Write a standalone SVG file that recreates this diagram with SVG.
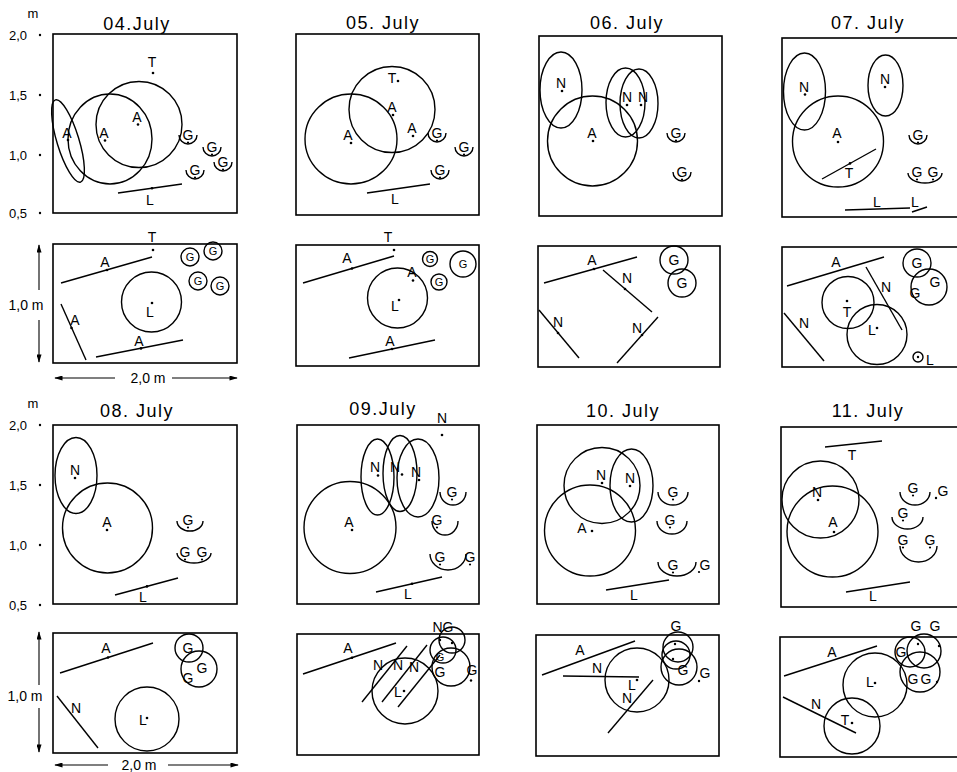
<svg xmlns="http://www.w3.org/2000/svg" width="957" height="772" viewBox="0 0 957 772">
<defs>
<marker id="ah" viewBox="0 0 10 6" refX="9" refY="3" markerWidth="9" markerHeight="5" orient="auto" markerUnits="userSpaceOnUse"><path d="M0,0 L10,3 L0,6 z" fill="#000"/></marker>
</defs>
<style>
.bx{fill:none;stroke:#000;stroke-width:1.6}
.ln{fill:none;stroke:#000;stroke-width:1.4}
.ar{fill:none;stroke:#000;stroke-width:1.1;marker-end:url(#ah)}
.d{fill:#000}
text{font-family:"Liberation Sans",Arial,sans-serif;fill:#000;text-anchor:middle}
.t{font-size:18px;letter-spacing:1.5px}
.l{font-size:14px}
.g{font-size:11px}
.ax{font-size:13px}
</style>
<rect width="957" height="772" fill="#fff"/>

<g id="axes-top">
<text class="ax" x="33" y="18">m</text>
<text class="ax" x="18" y="39.5">2,0</text><circle class="d" cx="40" cy="35" r="1.2"/>
<text class="ax" x="18" y="99.5">1,5</text><circle class="d" cx="40" cy="95" r="1.2"/>
<text class="ax" x="18" y="159.5">1,0</text><circle class="d" cx="40" cy="155" r="1.2"/>
<text class="ax" x="18" y="217.5">0,5</text><circle class="d" cx="40" cy="213" r="1.2"/>
<text class="l" x="26" y="310">1,0 m</text>
<path class="ar" d="M39,290 L39,245"/><path class="ar" d="M39,320 L39,362"/>
<text class="l" x="148" y="383">2,0 m</text>
<path class="ar" d="M115,378 L55,378"/><path class="ar" d="M172,378 L237,378"/>
</g>

<g id="axes-bottom">
<text class="ax" x="33" y="408">m</text>
<text class="ax" x="18" y="429.5">2,0</text><circle class="d" cx="40" cy="425" r="1.2"/>
<text class="ax" x="18" y="489.5">1,5</text><circle class="d" cx="40" cy="485" r="1.2"/>
<text class="ax" x="18" y="549.5">1,0</text><circle class="d" cx="40" cy="545" r="1.2"/>
<text class="ax" x="18" y="609.5">0,5</text><circle class="d" cx="40" cy="605" r="1.2"/>
<text class="l" x="25" y="701">1,0 m</text>
<path class="ar" d="M39,685 L39,632"/><path class="ar" d="M39,708 L39,752"/>
<text class="l" x="139" y="770">2,0 m</text>
<path class="ar" d="M108,765 L55,765"/><path class="ar" d="M168,765 L238,765"/>
</g>

<g id="p04">
<text class="t" x="137" y="29.5">04.July</text>
<rect class="bx" x="53" y="34" width="184" height="179"/>
<text class="l" x="152" y="67">T</text><circle class="d" cx="153" cy="73" r="1.3"/>
<ellipse class="ln" cx="110" cy="139" rx="42" ry="45"/>
<circle class="ln" cx="139" cy="124.5" r="43"/>
<ellipse class="ln" cx="68" cy="141" rx="43" ry="11" transform="rotate(73 68 141)"/>
<text class="l" x="67" y="138">A</text><circle class="d" cx="68" cy="140" r="1.3"/>
<text class="l" x="104" y="138">A</text><circle class="d" cx="105" cy="140.5" r="1.3"/>
<text class="l" x="137" y="122">A</text><circle class="d" cx="138" cy="124.5" r="1.3"/>
<text class="l" x="188" y="140">G</text><circle class="d" cx="188" cy="142.5" r="1.1"/><path class="ln" d="M179,135 A9,9 0 0 0 197,135"/>
<text class="l" x="212" y="152">G</text><circle class="d" cx="212" cy="154.5" r="1.1"/><path class="ln" d="M203,147 A9,9 0 0 0 221,147"/>
<text class="l" x="223" y="167">G</text><circle class="d" cx="223" cy="169.5" r="1.1"/><path class="ln" d="M214,162 A9,9 0 0 0 232,162"/>
<text class="l" x="195" y="175">G</text><circle class="d" cx="195" cy="177.5" r="1.1"/><path class="ln" d="M186,170 A9,9 0 0 0 204,170"/>
<path class="ln" d="M118,193 L182,184"/><circle class="d" cx="152" cy="188.2" r="1.3"/>
<text class="l" x="150" y="205">L</text>
<rect class="bx" x="53" y="244" width="184" height="119"/>
<text class="l" x="152" y="242">T</text><circle class="d" cx="153" cy="250" r="1.3"/>
<path class="ln" d="M61,283 L152,257"/><circle class="d" cx="107" cy="270" r="1.3"/>
<text class="l" x="105" y="267">A</text>
<circle class="ln" cx="151.5" cy="302" r="30"/>
<text class="l" x="150" y="317">L</text><circle class="d" cx="152" cy="303" r="1.3"/>
<path class="ln" d="M61,304 L86,360"/><circle class="d" cx="71.5" cy="328" r="1.3"/>
<text class="l" x="75" y="325">A</text>
<path class="ln" d="M96,357 L183,340"/><circle class="d" cx="141" cy="348.4" r="1.3"/>
<text class="l" x="139" y="346">A</text>
<circle class="ln" cx="190" cy="257" r="9"/><text class="g" x="190" y="261">G</text>
<circle class="ln" cx="213" cy="251" r="9"/><text class="g" x="213" y="255">G</text>
<circle class="ln" cx="198" cy="281" r="9"/><text class="g" x="198" y="285">G</text>
<circle class="ln" cx="220" cy="286" r="9"/><text class="g" x="220" y="290">G</text>
</g>

<g id="p05">
<text class="t" x="383" y="28.5">05. July</text>
<rect class="bx" x="296" y="34" width="183" height="181"/>
<ellipse class="ln" cx="351" cy="139" rx="46" ry="45"/>
<circle class="ln" cx="392" cy="109.5" r="43"/>
<text class="l" x="392" y="83">T</text><circle class="d" cx="398" cy="81" r="1.3"/>
<text class="l" x="392" y="112">A</text><circle class="d" cx="393" cy="115" r="1.3"/>
<text class="l" x="348" y="140">A</text><circle class="d" cx="351" cy="143" r="1.3"/>
<text class="l" x="412" y="133">A</text><circle class="d" cx="413" cy="136" r="1.3"/>
<text class="l" x="437" y="138">G</text><circle class="d" cx="437" cy="140.5" r="1.1"/><path class="ln" d="M428,133 A9,9 0 0 0 446,133"/>
<text class="l" x="464" y="152">G</text><circle class="d" cx="464" cy="154.5" r="1.1"/><path class="ln" d="M455,147 A9,9 0 0 0 473,147"/>
<text class="l" x="440" y="175">G</text><circle class="d" cx="440" cy="177.5" r="1.1"/><path class="ln" d="M431,170 A9,9 0 0 0 449,170"/>
<path class="ln" d="M367,193 L430,184"/>
<text class="l" x="395" y="204">L</text>
<rect class="bx" x="296" y="245" width="183" height="121"/>
<text class="l" x="388" y="242">T</text><circle class="d" cx="394" cy="250" r="1.3"/>
<path class="ln" d="M303,283 L394,256"/><circle class="d" cx="352" cy="268.5" r="1.3"/>
<text class="l" x="347" y="263">A</text>
<circle class="ln" cx="397.5" cy="298" r="30"/>
<text class="l" x="395" y="311">L</text><circle class="d" cx="399" cy="300" r="1.3"/>
<text class="l" x="412" y="277">A</text><circle class="d" cx="413" cy="280.5" r="1.3"/>
<path class="ln" d="M349,358 L435,340"/><circle class="d" cx="392" cy="349" r="1.3"/>
<text class="l" x="390" y="346">A</text>
<circle class="ln" cx="430" cy="259" r="7.5"/><text class="g" x="430" y="263">G</text>
<circle class="ln" cx="463" cy="264" r="13"/><text class="g" x="463" y="268">G</text>
<circle class="ln" cx="439" cy="282" r="8"/><text class="g" x="439" y="286">G</text>
</g>

<g id="p06">
<text class="t" x="627" y="28.5">06. July</text>
<rect class="bx" x="539" y="36" width="183" height="180"/>
<ellipse class="ln" cx="561" cy="90" rx="21" ry="38"/>
<text class="l" x="561" y="88">N</text><circle class="d" cx="562" cy="91" r="1.3"/>
<circle class="ln" cx="592.5" cy="141" r="45"/>
<text class="l" x="592" y="138">A</text><circle class="d" cx="593" cy="141" r="1.3"/>
<ellipse class="ln" cx="625.5" cy="102.5" rx="19.5" ry="34.5"/>
<ellipse class="ln" cx="639" cy="103.5" rx="19" ry="34.5"/>
<text class="l" x="627" y="102">N</text><circle class="d" cx="627" cy="105" r="1.3"/>
<text class="l" x="643" y="102">N</text><circle class="d" cx="641" cy="105" r="1.3"/>
<text class="l" x="676" y="138">G</text><circle class="d" cx="676" cy="140.5" r="1.1"/><path class="ln" d="M667,133 A9,9 0 0 0 685,133"/>
<text class="l" x="682" y="177">G</text><circle class="d" cx="682" cy="179.5" r="1.1"/><path class="ln" d="M673,172 A9,9 0 0 0 691,172"/>
<rect class="bx" x="538" y="246" width="182" height="121"/>
<path class="ln" d="M544,283 L637,257"/><circle class="d" cx="594" cy="269" r="1.3"/>
<text class="l" x="592" y="265">A</text>
<path class="ln" d="M603,270 L652,312"/><circle class="d" cx="625" cy="289" r="1.3"/>
<text class="l" x="627" y="283">N</text>
<path class="ln" d="M539,310 L579,358"/><circle class="d" cx="558" cy="333" r="1.3"/>
<text class="l" x="558" y="327">N</text>
<path class="ln" d="M658,317 L617,363"/><circle class="d" cx="642" cy="335" r="1.3"/>
<text class="l" x="637" y="333">N</text>
<circle class="ln" cx="674" cy="260" r="14"/><text class="l" x="674" y="265">G</text>
<circle class="ln" cx="682" cy="283" r="14"/><text class="l" x="682" y="288">G</text>
</g>

<g id="p07">
<text class="t" x="868" y="28.5">07. July</text>
<rect class="bx" x="782" y="38" width="180" height="179"/>
<ellipse class="ln" cx="804.5" cy="91.5" rx="21" ry="38.5"/>
<text class="l" x="804" y="92">N</text><circle class="d" cx="805" cy="94.5" r="1.3"/>
<ellipse class="ln" cx="885.5" cy="85.5" rx="17.5" ry="30.5"/>
<text class="l" x="885" y="84">N</text><circle class="d" cx="885" cy="87" r="1.3"/>
<circle class="ln" cx="838" cy="141.5" r="45.5"/>
<text class="l" x="837" y="138">A</text><circle class="d" cx="838" cy="142" r="1.3"/>
<path class="ln" d="M822,179 L876,149"/><circle class="d" cx="850" cy="163.4" r="1.3"/>
<text class="l" x="849" y="178">T</text>
<text class="l" x="918" y="140">G</text><circle class="d" cx="918" cy="142.5" r="1.1"/><path class="ln" d="M909,135 A9,9 0 0 0 927,135"/>
<text class="l" x="917" y="177">G</text><circle class="d" cx="917" cy="179.5" r="1.1"/>
<text class="l" x="933" y="177">G</text><circle class="d" cx="933" cy="179.5" r="1.1"/>
<path class="ln" d="M908,173 A17,10 0 0 0 942,173"/>
<path class="ln" d="M845,210 L910,208"/>
<text class="l" x="877" y="207">L</text>
<text class="l" x="915" y="207">L</text>
<path class="ln" d="M912,212 L927,207"/>
<rect class="bx" x="782" y="247" width="180" height="120"/>
<path class="ln" d="M787,286 L884,257"/>
<text class="l" x="836" y="267">A</text>
<path class="ln" d="M866,267 L902,330"/>
<text class="l" x="886" y="292">N</text>
<path class="ln" d="M784,313 L824,361"/>
<text class="l" x="804" y="328">N</text>
<circle class="ln" cx="848" cy="302.5" r="26"/>
<text class="l" x="847" y="317">T</text><circle class="d" cx="847" cy="301" r="1.3"/>
<circle class="ln" cx="877" cy="334.5" r="30"/>
<text class="l" x="872" y="335">L</text><circle class="d" cx="877" cy="328" r="1.3"/>
<circle class="ln" cx="917" cy="263" r="14"/><text class="l" x="917" y="268">G</text>
<circle class="ln" cx="929" cy="287" r="18"/>
<text class="l" x="915" y="298">G</text><text class="l" x="935" y="287">G</text>
<circle class="ln" cx="918" cy="357" r="5"/><circle class="d" cx="918" cy="357" r="1.2"/>
<text class="l" x="930" y="365">L</text>
</g>

<g id="p08">
<text class="t" x="137" y="416.5">08. July</text>
<rect class="bx" x="53" y="425" width="184" height="179"/>
<ellipse class="ln" cx="76" cy="475.5" rx="21" ry="38"/>
<text class="l" x="75" y="475">N</text><circle class="d" cx="75" cy="478" r="1.3"/>
<circle class="ln" cx="107.5" cy="528" r="45"/>
<text class="l" x="107" y="527">A</text><circle class="d" cx="107" cy="530" r="1.3"/>
<text class="l" x="188" y="525">G</text><circle class="d" cx="188" cy="527.5" r="1.1"/><path class="ln" d="M177,521 A13,10 0 0 0 203,521"/>
<text class="l" x="185" y="557">G</text><circle class="d" cx="185" cy="559.5" r="1.1"/>
<text class="l" x="202" y="557">G</text><circle class="d" cx="202" cy="559.5" r="1.1"/>
<path class="ln" d="M177,553 A17,10 0 0 0 211,553"/>
<path class="ln" d="M115,595 L178,578"/><circle class="d" cx="147" cy="586.4" r="1.3"/>
<text class="l" x="143" y="602">L</text>
<rect class="bx" x="53" y="633" width="184" height="120"/>
<path class="ln" d="M60,673 L153,643"/><circle class="d" cx="108" cy="657.5" r="1.3"/>
<text class="l" x="106" y="653">A</text>
<path class="ln" d="M57,696 L98,748"/>
<text class="l" x="76" y="713">N</text>
<circle class="ln" cx="147" cy="719" r="32"/>
<text class="l" x="143" y="725">L</text><circle class="d" cx="147" cy="718" r="1.3"/>
<circle class="ln" cx="189" cy="648" r="14"/>
<circle class="ln" cx="199" cy="669" r="18"/>
<text class="l" x="188" y="653">G</text><text class="l" x="202" y="673">G</text><text class="l" x="188" y="683">G</text>
</g>

<g id="p09">
<text class="t" x="383" y="414.5">09.July</text>
<text class="l" x="442" y="423">N</text><circle class="d" cx="442" cy="435" r="1.3"/>
<rect class="bx" x="297" y="425" width="182" height="179"/>
<circle class="ln" cx="350" cy="527.5" r="46"/>
<text class="l" x="349" y="527">A</text><circle class="d" cx="352" cy="530" r="1.3"/>
<ellipse class="ln" cx="377.5" cy="477" rx="16.5" ry="38"/>
<ellipse class="ln" cx="400" cy="473.5" rx="17" ry="38"/>
<ellipse class="ln" cx="418" cy="478" rx="21" ry="39"/>
<text class="l" x="375" y="472">N</text><circle class="d" cx="378" cy="475.5" r="1.3"/>
<text class="l" x="395" y="472">N</text><circle class="d" cx="402" cy="474.5" r="1.3"/>
<text class="l" x="416" y="477">N</text><circle class="d" cx="419" cy="480" r="1.3"/>
<text class="l" x="452" y="497">G</text><circle class="d" cx="452" cy="499.5" r="1.1"/><path class="ln" d="M440,492 A13,13 0 0 0 466,492"/>
<text class="l" x="437" y="525">G</text><circle class="d" cx="437" cy="527.5" r="1.1"/><path class="ln" d="M432,521 A13,14 0 0 0 458,521"/>
<text class="l" x="440" y="562">G</text><circle class="d" cx="440" cy="564.5" r="1.1"/>
<text class="l" x="470" y="562">G</text><circle class="d" cx="470" cy="564.5" r="1.1"/>
<path class="ln" d="M430,554 A18,16 0 0 0 466,554"/>
<path class="ln" d="M376,592 L442,577"/><circle class="d" cx="412" cy="583.8" r="1.3"/>
<text class="l" x="408" y="598.5">L</text>
<rect class="bx" x="297" y="634" width="182" height="121"/>
<path class="ln" d="M303,674 L396,643"/><circle class="d" cx="352" cy="657.7" r="1.3"/>
<text class="l" x="348" y="653">A</text>
<circle class="ln" cx="405" cy="691" r="33"/>
<text class="l" x="398" y="697">L</text><circle class="d" cx="404" cy="691" r="1.3"/>
<path class="ln" d="M362,702 L407,646"/>
<path class="ln" d="M382,702 L427,645"/>
<path class="ln" d="M398,707 L440,655"/>
<text class="l" x="378" y="670">N</text><text class="l" x="398" y="670">N</text><text class="l" x="414" y="672">N</text>
<circle class="ln" cx="452" cy="640" r="13"/>
<circle class="ln" cx="443" cy="650" r="13"/>
<circle class="ln" cx="451" cy="667" r="19"/>
<text class="l" x="443" y="632">NG</text>
<circle class="d" cx="440" cy="640" r="1.2"/><circle class="d" cx="452" cy="643" r="1.2"/>
<text class="g" x="440" y="661">G</text>
<text class="l" x="440" y="677">G</text>
<text class="l" x="472" y="675">G</text><circle class="d" cx="471" cy="680.5" r="1.2"/>
</g>

<g id="p10">
<text class="t" x="623" y="416.5">10. July</text>
<rect class="bx" x="537" y="425" width="182" height="179"/>
<circle class="ln" cx="602" cy="485.5" r="38"/>
<ellipse class="ln" cx="631.5" cy="485.5" rx="21.5" ry="36.5"/>
<circle class="ln" cx="590" cy="530.5" r="45.5"/>
<text class="l" x="601" y="480">N</text><circle class="d" cx="602" cy="483" r="1.3"/>
<text class="l" x="630" y="483">N</text><circle class="d" cx="630" cy="486" r="1.3"/>
<text class="l" x="582" y="533">A</text><circle class="d" cx="592" cy="531" r="1.3"/>
<text class="l" x="673" y="497">G</text><circle class="d" cx="673" cy="499.5" r="1.1"/><path class="ln" d="M658,492 A15,13 0 0 0 688,492"/>
<text class="l" x="670" y="525">G</text><circle class="d" cx="670" cy="527.5" r="1.1"/><path class="ln" d="M657,521 A15,13 0 0 0 687,521"/>
<text class="l" x="673" y="570">G</text><circle class="d" cx="673" cy="572.5" r="1.1"/>
<text class="l" x="705" y="570">G</text><circle class="d" cx="699" cy="572" r="1.1"/>
<path class="ln" d="M658,562 A19,14 0 0 0 696,562"/>
<path class="ln" d="M606,590 L669,580"/>
<text class="l" x="634" y="600">L</text>
<rect class="bx" x="536" y="635" width="183" height="121"/>
<path class="ln" d="M542,675 L635,641"/>
<text class="l" x="580" y="655">A</text>
<path class="ln" d="M563,676 L639,677"/>
<text class="l" x="597" y="673">N</text>
<circle class="ln" cx="637" cy="680" r="32"/>
<text class="l" x="632" y="690">L</text><circle class="d" cx="637" cy="680" r="1.3"/>
<path class="ln" d="M608,733 L653,680"/>
<text class="l" x="627" y="703">N</text>
<circle class="ln" cx="678" cy="647" r="15"/>
<circle class="ln" cx="676" cy="655" r="14"/>
<circle class="ln" cx="679" cy="667" r="18"/>
<text class="l" x="676" y="631">G</text>
<circle class="d" cx="675" cy="644" r="1.2"/><circle class="d" cx="673" cy="659" r="1.2"/>
<text class="l" x="683" y="675">G</text>
<text class="l" x="705" y="678">G</text><circle class="d" cx="699" cy="681" r="1.2"/>
</g>

<g id="p11">
<text class="t" x="868" y="416.5">11. July</text>
<rect class="bx" x="781" y="427" width="181" height="180"/>
<path class="ln" d="M825,447 L882,441"/>
<text class="l" x="852" y="460">T</text>
<circle class="ln" cx="820.5" cy="499.5" r="38.5"/>
<text class="l" x="817" y="497">N</text><circle class="d" cx="818" cy="500" r="1.3"/>
<circle class="ln" cx="832.5" cy="531.5" r="45.5"/>
<text class="l" x="833" y="527">A</text><circle class="d" cx="834" cy="532" r="1.3"/>
<text class="l" x="913" y="493">G</text><circle class="d" cx="913" cy="495.5" r="1.1"/><path class="ln" d="M900,492 A15,13 0 0 0 930,492"/>
<text class="l" x="943" y="496">G</text><circle class="d" cx="936" cy="498" r="1.2"/>
<text class="l" x="903" y="518">G</text><circle class="d" cx="903" cy="520.5" r="1.1"/><path class="ln" d="M892,517 A15.5,12 0 0 0 923,517"/>
<text class="l" x="903" y="545">G</text><circle class="d" cx="903" cy="547.5" r="1.1"/>
<text class="l" x="930" y="545">G</text><circle class="d" cx="930" cy="547.5" r="1.1"/>
<path class="ln" d="M900,546 A18.5,16 0 0 0 937,546"/>
<path class="ln" d="M846,592 L910,582"/>
<text class="l" x="873" y="601">L</text>
<rect class="bx" x="780" y="637" width="182" height="120"/>
<path class="ln" d="M784,676 L877,646"/>
<text class="l" x="832" y="657">A</text>
<circle class="ln" cx="875" cy="685" r="32"/>
<text class="l" x="870" y="687">L</text><circle class="d" cx="875" cy="683" r="1.3"/>
<path class="ln" d="M783,697 L856,733"/>
<text class="l" x="816" y="709">N</text>
<circle class="ln" cx="852" cy="726" r="28"/>
<text class="l" x="845" y="725">T</text><circle class="d" cx="852" cy="723" r="1.3"/>
<circle class="ln" cx="910" cy="652" r="15"/>
<circle class="ln" cx="924" cy="651" r="17"/>
<circle class="ln" cx="920" cy="672" r="20"/>
<text class="l" x="916" y="631">G</text><text class="l" x="935" y="631">G</text>
<circle class="d" cx="918" cy="644" r="1.2"/><circle class="d" cx="939" cy="646" r="1.2"/>
<text class="l" x="901" y="657">G</text>
<text class="l" x="913" y="684">G</text><text class="l" x="926" y="684">G</text><circle class="d" cx="937" cy="682" r="1.2"/>
</g>
</svg>
